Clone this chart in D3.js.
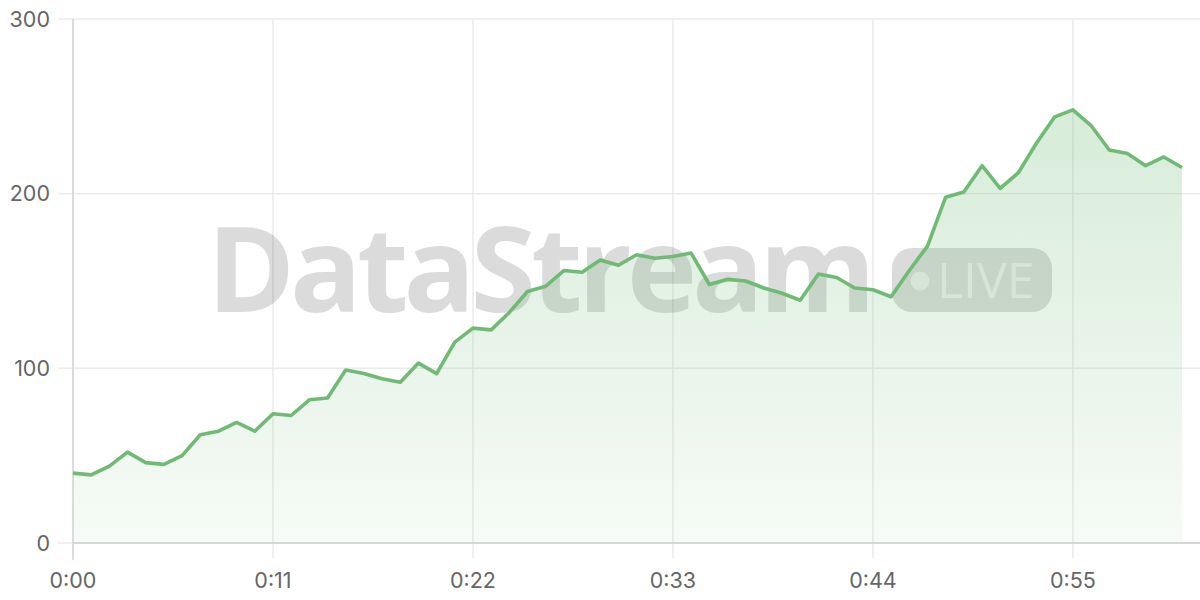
<!DOCTYPE html>
<html>
<head>
<meta charset="utf-8">
<script src="https://cdn.jsdelivr.net/npm/d3@7"></script>
<style>
html,body{margin:0;padding:0;background:#fff;}
svg{display:block;}
</style>
</head>
<body>
<svg id="chart" width="1200" height="600"></svg>
<script>
// Data (seconds since start, value)
const values = [40,39,44,52,46,45,50,62,64,69,
                64,74,73,82,83,99,97,94,92,103,
                97,115,123,122,132,144,147,156,155,162,
                159,165,163,164,166,148,151,150,146,143,
                139,154,152,146,145,141,156,170,198,201,
                216,203,212,229,244,248,239,225,223,216,
                221,215];
const xTickValues = [0,11,22,33,44,55];
const xTickLabels = ["0:00","0:11","0:22","0:33","0:44","0:55"];
const yTickValues = [0,100,200,300];
const watermarkText = "DataStream";
const badgeText = "LIVE";

const svg = d3.select("#chart");
const W = 1200, H = 600;
const x = d3.scaleLinear().domain([0, values.length - 1]).range([73, 1182]);
const y = d3.scaleLinear().domain([0, 300]).range([543, 19]);
const labelFont = "Inter, 'Liberation Sans', sans-serif";

// Grid lines
const grid = svg.append("g");
grid.selectAll("line.h").data(yTickValues).join("line")
  .attr("x1", 58).attr("x2", W)
  .attr("y1", d => y(d)).attr("y2", d => y(d))
  .attr("stroke", "#ebebeb").attr("stroke-width", 1.5);
grid.selectAll("line.v").data(xTickValues).join("line")
  .attr("x1", d => x(d)).attr("x2", d => x(d))
  .attr("y1", y(300)).attr("y2", 558)
  .attr("stroke", "#ebebeb").attr("stroke-width", 1.5);

// Watermark
const wm = svg.append("g");
wm.append("text")
  .attr("x", 207).attr("y", 312)
  .attr("font-family", "'Open Sans', sans-serif")
  .attr("font-weight", 700)
  .attr("font-size", 119)
  .attr("letter-spacing", -5)
  .attr("fill", "rgba(0,0,0,0.14)")
  .text(watermarkText);
wm.append("rect")
  .attr("x", 892).attr("y", 248).attr("width", 160).attr("height", 64)
  .attr("rx", 20)
  .attr("fill", "rgba(0,0,0,0.14)");
wm.append("circle")
  .attr("cx", 920).attr("cy", 281).attr("r", 9.5)
  .attr("fill", "rgba(255,255,255,0.55)");
wm.append("text")
  .attr("x", 937).attr("y", 298)
  .attr("font-family", "'Open Sans', sans-serif")
  .attr("font-weight", 400)
  .attr("font-size", 50)
  .attr("fill", "rgba(255,255,255,0.55)")
  .text(badgeText);

// Gradient
const defs = svg.append("defs");
const grad = defs.append("linearGradient").attr("id", "areaGrad")
  .attr("x1", 0).attr("y1", 0).attr("x2", 0).attr("y2", 1);
grad.append("stop").attr("offset", "0%").attr("stop-color", "rgb(112,186,118)").attr("stop-opacity", 0.28);
grad.append("stop").attr("offset", "100%").attr("stop-color", "rgb(112,186,118)").attr("stop-opacity", 0.06);

const area = d3.area().x((d, i) => x(i)).y0(y(0)).y1(d => y(d));
svg.append("path").datum(values).attr("d", area).attr("fill", "url(#areaGrad)");

// Axes lines
svg.append("line").attr("x1", 73).attr("x2", W).attr("y1", y(0)).attr("y2", y(0))
  .attr("stroke", "#cfcfcf").attr("stroke-width", 1.5);
svg.append("line").attr("x1", 73).attr("x2", 73).attr("y1", y(300)).attr("y2", 560)
  .attr("stroke", "#d4d4d4").attr("stroke-width", 1.5);

// Line
const line = d3.line().x((d, i) => x(i)).y(d => y(d));
svg.append("path").datum(values).attr("d", line)
  .attr("fill", "none").attr("stroke", "rgb(112,186,118)")
  .attr("stroke-width", 3.6).attr("stroke-linejoin", "round");

// Labels
svg.append("g").selectAll("text").data(yTickValues).join("text")
  .attr("x", 50).attr("y", d => y(d)).attr("dy", "0.35em")
  .attr("text-anchor", "end")
  .attr("font-family", labelFont).attr("font-size", 21.5).attr("fill", "#666")
  .text(d => d);
svg.append("g").selectAll("text").data(xTickValues).join("text")
  .attr("x", d => x(d)).attr("y", 580).attr("dy", "0.35em")
  .attr("text-anchor", "middle")
  .attr("font-family", labelFont).attr("font-size", 21.5).attr("fill", "#666")
  .text((d, i) => xTickLabels[i]);
</script>
</body>
</html>
